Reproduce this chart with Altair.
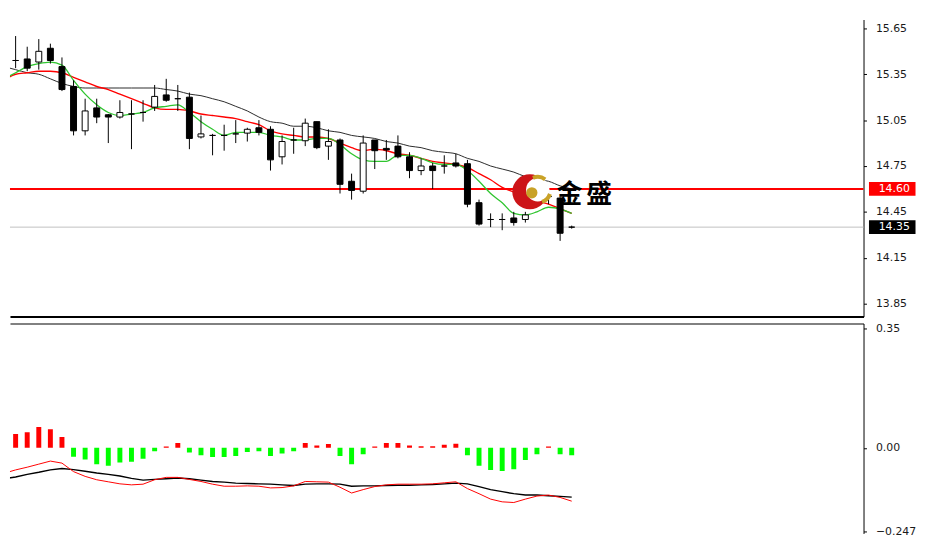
import altair as alt
import pandas as pd

# ---------------- data ----------------
opens  = [15.34, 15.44, 15.45, 15.43, 15.52, 15.40, 15.27, 14.98, 15.13, 15.085,
          15.07, 15.09, 15.10, 15.135, 15.215, 15.19, 15.20, 14.94, 14.95, 14.95,
          14.96, 14.965, 15.00, 14.99, 14.81, 14.92, 14.915, 15.04, 14.88, 14.92,
          14.65, 14.585, 14.92, 14.865, 14.88, 14.81, 14.72, 14.75, 14.75, 14.77,
          14.765, 14.51, 14.40, 14.40, 14.41, 14.40, 14.56, 14.55, 14.54, 14.35]
highs  = [15.54, 15.60, 15.53, 15.58, 15.55, 15.46, 15.31, 15.19, 15.19, 15.09,
          15.18, 15.18, 15.18, 15.28, 15.32, 15.28, 15.23, 15.08, 14.96, 15.02,
          15.05, 15.00, 15.05, 15.01, 14.95, 15.00, 15.06, 15.04, 14.99, 14.93,
          14.70, 14.95, 14.92, 14.92, 14.95, 14.84, 14.80, 14.77, 14.82, 14.83,
          14.79, 14.53, 14.44, 14.44, 14.45, 14.45, 14.60, 14.60, 14.55, 14.36]
lows   = [15.26, 15.39, 15.37, 15.38, 15.42, 15.24, 14.95, 14.95, 15.03, 14.90,
          15.06, 14.86, 15.04, 15.11, 15.17, 15.11, 14.86, 14.93, 14.82, 14.85,
          14.90, 14.91, 14.95, 14.72, 14.76, 14.83, 14.88, 14.86, 14.79, 14.57,
          14.53, 14.57, 14.73, 14.79, 14.80, 14.67, 14.69, 14.60, 14.70, 14.74,
          14.48, 14.36, 14.35, 14.33, 14.36, 14.38, 14.50, 14.50, 14.26, 14.34]
closes = [15.43, 15.44, 15.39, 15.50, 15.44, 15.25, 14.98, 15.11, 15.07, 15.07,
          15.10, 15.09, 15.10, 15.205, 15.18, 15.19, 14.93, 14.96, 14.95, 14.95,
          14.96, 14.99, 14.97, 14.79, 14.91, 14.92, 15.03, 14.87, 14.91, 14.63,
          14.59, 14.90, 14.85, 14.855, 14.81, 14.72, 14.75, 14.72, 14.75, 14.75,
          14.50, 14.37, 14.40, 14.40, 14.38, 14.43, 14.53, 14.55, 14.31, 14.35]

ma_green = [15.32, 15.36, 15.40, 15.42, 15.43, 15.41, 15.31, 15.22, 15.15, 15.10,
            15.08, 15.09, 15.10, 15.13, 15.14, 15.15, 15.10, 15.04, 14.99, 14.95,
            14.97, 14.97, 14.97, 14.95, 14.94, 14.92, 14.92, 14.93, 14.93, 14.89,
            14.83, 14.79, 14.78, 14.78, 14.82, 14.82, 14.80, 14.77, 14.76, 14.76,
            14.72, 14.65, 14.57, 14.51, 14.44, 14.43, 14.45, 14.48, 14.47, 14.44]
ma_red   = [15.31, 15.35, 15.36, 15.37, 15.37, 15.36, 15.33, 15.30, 15.27, 15.25,
            15.22, 15.19, 15.16, 15.13, 15.12, 15.12, 15.11, 15.09, 15.08, 15.07,
            15.06, 15.04, 15.02, 14.98, 14.96, 14.95, 14.94, 14.94, 14.93, 14.90,
            14.87, 14.85, 14.86, 14.85, 14.83, 14.82, 14.80, 14.78, 14.77, 14.76,
            14.74, 14.70, 14.66, 14.61, 14.58, 14.55, 14.52, 14.50, 14.47, 14.44]
ma_black = [15.40, 15.38, 15.36, 15.35, 15.32, 15.29, 15.27, 15.26, 15.26, 15.26,
            15.26, 15.26, 15.26, 15.26, 15.25, 15.24, 15.22, 15.21, 15.19, 15.17,
            15.14, 15.11, 15.07, 15.04, 15.03, 15.01, 15.01, 15.00, 14.98, 14.97,
            14.95, 14.94, 14.93, 14.91, 14.90, 14.88, 14.87, 14.85, 14.84, 14.83,
            14.80, 14.78, 14.75, 14.73, 14.71, 14.68, 14.66, 14.65, 14.62, 14.60]

osc_hist = [0.022, 0.041, 0.046, 0.061, 0.055, 0.032, -0.026, -0.034, -0.048, -0.053,
            -0.043, -0.041, -0.032, -0.010, 0.004, 0.014, -0.014, -0.022, -0.027, -0.027,
            -0.024, -0.012, -0.010, -0.024, -0.017, -0.010, 0.014, 0.007, 0.011, -0.024,
            -0.048, -0.019, 0.004, 0.014, 0.014, 0.007, 0.005, 0.005, 0.009, 0.012,
            -0.022, -0.053, -0.065, -0.068, -0.063, -0.036, -0.019, 0.004, -0.019, -0.022]
osc_red  = [-0.075, -0.065, -0.057, -0.048, -0.039, -0.045, -0.070, -0.084, -0.094, -0.100,
            -0.106, -0.109, -0.107, -0.094, -0.087, -0.087, -0.093, -0.099, -0.107, -0.113,
            -0.113, -0.112, -0.113, -0.118, -0.117, -0.112, -0.099, -0.100, -0.101, -0.116,
            -0.133, -0.123, -0.114, -0.109, -0.107, -0.107, -0.107, -0.106, -0.103, -0.100,
            -0.120, -0.135, -0.151, -0.159, -0.161, -0.151, -0.142, -0.139, -0.146, -0.157]
osc_black = [-0.091, -0.086, -0.078, -0.072, -0.065, -0.061, -0.064, -0.069, -0.074, -0.078,
             -0.083, -0.090, -0.095, -0.093, -0.091, -0.089, -0.091, -0.095, -0.099, -0.101,
             -0.104, -0.105, -0.106, -0.107, -0.109, -0.111, -0.107, -0.106, -0.106, -0.107,
             -0.113, -0.112, -0.112, -0.111, -0.110, -0.110, -0.109, -0.108, -0.106, -0.104,
             -0.106, -0.114, -0.123, -0.129, -0.135, -0.139, -0.139, -0.141, -0.143, -0.145]

price_ticks = [15.65, 15.35, 15.05, 14.75, 14.45, 14.15, 13.85]
osc_ticks = [0.35, 0.0, -0.247]
level_prices = [14.60, 14.35]
level_labels = ["14.60", "14.35"]
level_colors = ["#ff0000", "#000000"]
logo_text = ["金", "盛"]

# ---------------- tables ----------------
n = len(opens)
df = pd.DataFrame({
    "i": list(range(1, n + 1)),
    "open": opens, "high": highs, "low": lows, "close": closes,
    "green": ma_green, "red": ma_red, "black": ma_black,
    "hist": osc_hist, "ored": osc_red, "oblack": osc_black,
})
levels = pd.DataFrame({"price": level_prices, "label": level_labels, "col": level_colors})
one = pd.DataFrame({"k": [0]})

W = 862
xscale = alt.Scale(domain=[1.513, 75.19], nice=False, zero=False, padding=0)
yscale = alt.Scale(domain=[13.765, 15.708], nice=False, zero=False)
oscale = alt.Scale(domain=[-0.252, 0.366], nice=False, zero=False)

font = "DejaVu Sans"

x_top_axis = alt.Axis(orient="bottom", labels=False, ticks=False, grid=False,
                      domain=True, domainColor="#000000", domainWidth=2, title=None)
x_bot_axis = alt.Axis(orient="top", labels=False, ticks=False, grid=False,
                      domain=True, domainColor="#000000", domainWidth=1, title=None)

y_price_axis = alt.Axis(orient="right", values=price_ticks, format=".2f", grid=False,
                        tickSize=3, tickColor="#000000", domainColor="#000000",
                        labelPadding=9, labelColor="#1a1a1a", labelFont=font,
                        labelFontSize=11, labelFlush=False, title=None)
y_osc_axis = alt.Axis(orient="right", values=osc_ticks, grid=False,
                      labelExpr="datum.value < -0.2 ? format(datum.value, '.3f') : format(datum.value, '.2f')",
                      tickSize=3, tickColor="#000000", domainColor="#000000",
                      labelPadding=9, labelColor="#1a1a1a", labelFont=font,
                      labelFontSize=11, labelFlush=False, title=None)

X = alt.X("i:Q", scale=xscale, axis=x_top_axis)
base = alt.Chart(df)

# ---------------- price panel ----------------
grey_line = alt.Chart(levels).transform_filter("datum.label == '14.35'").mark_rule(
    color="#c0c0c0", strokeWidth=1).encode(y=alt.Y("price:Q", scale=yscale, axis=y_price_axis))
red_line = alt.Chart(levels).transform_filter("datum.label == '14.60'").mark_rule(
    color="#ff0000", strokeWidth=2).encode(y=alt.Y("price:Q", scale=yscale, axis=y_price_axis))

wicks = base.mark_rule(color="#000000", strokeWidth=1, clip=True).encode(
    x=X,
    y=alt.Y("low:Q", scale=yscale, axis=y_price_axis),
    y2="high:Q",
)
bodies = base.mark_bar(size=6, stroke="#000000", strokeWidth=1, clip=True).encode(
    x=X,
    y=alt.Y("open:Q", scale=yscale, axis=y_price_axis),
    y2="close:Q",
    fill=alt.condition("datum.close >= datum.open", alt.value("#ffffff"), alt.value("#000000")),
)

def ma(field, color, width):
    return base.mark_line(color=color, strokeWidth=width, clip=True, interpolate="monotone").encode(
        x=X, y=alt.Y(f"{field}:Q", scale=yscale, axis=y_price_axis))

ma_k = ma("black", "#2a2a2a", 1)
ma_r = ma("red", "#ff0000", 1.4)
ma_g = ma("green", "#2fc52f", 1.3)

level_box = alt.Chart(levels).mark_tick(orient="horizontal", thickness=14, size=47, opacity=1).encode(
    x=alt.value(891), y=alt.Y("price:Q", scale=yscale, axis=y_price_axis),
    color=alt.Color("col:N", scale=None))
level_txt = alt.Chart(levels).mark_text(color="#ffffff", fontSize=11, font=font, align="center",
                                        baseline="middle").encode(
    x=alt.value(893), y=alt.Y("price:Q", scale=yscale, axis=y_price_axis), text="label:N")

# logo watermark
logo_red = alt.Chart(one).mark_circle(size=1257, color="#cc1418", opacity=1).encode(
    x=alt.value(525), y=alt.value(174))
logo_white = alt.Chart(one).mark_circle(size=560, color="#ffffff", opacity=1).encode(
    x=alt.value(533), y=alt.value(172))
logo_ball = alt.Chart(one).mark_circle(size=130, color="#c9a227", opacity=1).encode(
    x=alt.value(527), y=alt.value(175))
logo_arc1 = alt.Chart(one).mark_arc(radius=15, radius2=11, theta=5.9, theta2=6.9,
                                    color="#c9a227").encode(x=alt.value(533), y=alt.value(172))
logo_arc2 = alt.Chart(one).mark_arc(radius=15, radius2=11, theta=1.9, theta2=2.8,
                                    color="#c9a227").encode(x=alt.value(533), y=alt.value(172))
logo_t1 = alt.Chart(one).mark_text(text=logo_text[0], fontSize=26, font="Noto Sans CJK SC",
                                   fontWeight="bold", color="#000000", baseline="middle",
                                   align="center").encode(x=alt.value(565), y=alt.value(177))
logo_t2 = alt.Chart(one).mark_text(text=logo_text[1], fontSize=26, font="Noto Sans CJK SC",
                                   fontWeight="bold", color="#000000", baseline="middle",
                                   align="center").encode(x=alt.value(595), y=alt.value(177))

top = alt.layer(grey_line, red_line, ma_k, ma_r, ma_g, wicks, bodies,
                logo_red, logo_white, logo_ball, logo_arc1, logo_arc2, logo_t1, logo_t2,
                level_box, level_txt).properties(width=W, height=300)

# ---------------- oscillator panel ----------------
XB = alt.X("i:Q", scale=xscale, axis=x_bot_axis)
bars = base.mark_bar(size=5, clip=True).encode(
    x=XB,
    y=alt.Y("hist:Q", scale=oscale, axis=y_osc_axis),
    y2=alt.datum(0),
    color=alt.condition("datum.hist >= 0", alt.value("#ff0000"), alt.value("#00ff00")),
)
osc_k = base.mark_line(color="#000000", strokeWidth=1.4, clip=True).encode(
    x=XB, y=alt.Y("oblack:Q", scale=oscale, axis=y_osc_axis))
osc_r = base.mark_line(color="#ff0000", strokeWidth=1, clip=True).encode(
    x=XB, y=alt.Y("ored:Q", scale=oscale, axis=y_osc_axis))

bottom = alt.layer(bars, osc_k, osc_r).properties(width=W, height=212)

chart = alt.vconcat(top, bottom, spacing=4).properties(
    padding={"top": 8, "left": 0, "right": 0, "bottom": 0},
    background="#ffffff",
).configure_view(stroke="transparent")

chart.save("out.html", embed_options={"renderer": "svg", "actions": False})
